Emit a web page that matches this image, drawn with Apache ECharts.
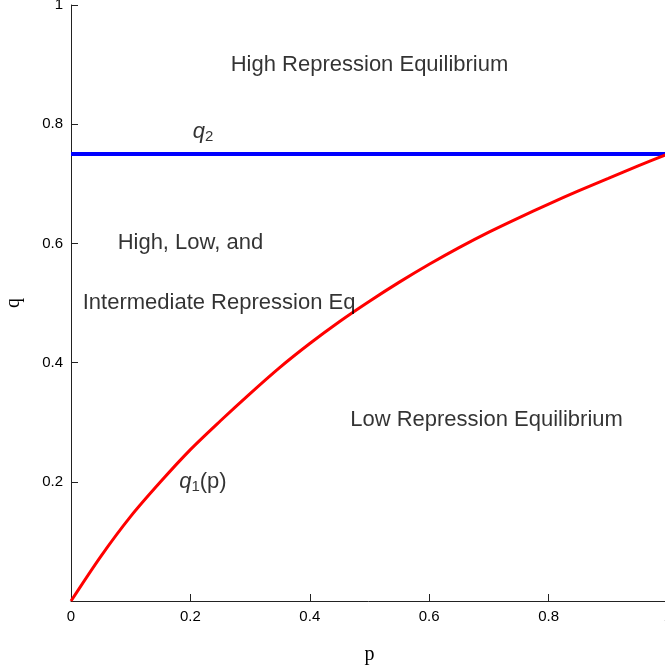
<!DOCTYPE html>
<html>
<head>
<meta charset="utf-8">
<script src="https://cdn.jsdelivr.net/npm/echarts@6/dist/echarts.min.js"></script>
<style>
  html, body { margin: 0; padding: 0; background: #fff; }
  #chart { width: 665px; height: 670px; }
</style>
</head>
<body>
<div id="chart"></div>
<script>
// q1(p) curve
const pValues  = [0, 0.05, 0.1, 0.15, 0.2, 0.25, 0.3, 0.35, 0.4, 0.45, 0.5,
                  0.55, 0.6, 0.65, 0.7, 0.75, 0.8, 0.85, 0.9, 0.95, 1.0];
const q1Values = [0, 0.075, 0.142, 0.200, 0.254, 0.302, 0.348, 0.392, 0.432, 0.469, 0.503,
                  0.535, 0.565, 0.593, 0.619, 0.643, 0.666, 0.688, 0.709, 0.730, 0.75];

// q2 horizontal line
const q2Level = 0.75;

const xTicks = [0, 0.2, 0.4, 0.6, 0.8, 1];
const yTicks = [0.2, 0.4, 0.6, 0.8, 1];

// text labels: [p, q, text]
const notes = [
  [0.5, 0.9, 'High Repression Equilibrium'],
  [0.221, 0.787, '{i|q}{s|2}'],
  [0.2, 0.6, 'High, Low, and'],
  [0.248, 0.5, 'Intermediate Repression Eq'],
  [0.696, 0.303, 'Low Repression Equilibrium'],
  [0.221, 0.2, '{i|q}{s|1}(p)']
];

const chart = echarts.init(document.getElementById('chart'));

const axisColor = '#222';
const labelFont = { fontFamily: 'Liberation Sans', fontSize: 15, color: '#000' };

chart.setOption({
  animation: false,
  grid: { left: 71, top: 5, width: 597, height: 596, containLabel: false, outerBoundsMode: 'none' },
  xAxis: {
    type: 'value', min: 0, max: 1, interval: 0.2,
    name: 'p', nameLocation: 'middle', nameGap: 44,
    nameTextStyle: { fontFamily: 'Liberation Serif', fontSize: 20, color: '#000' },
    axisLine: { show: true, lineStyle: { color: axisColor, width: 1 } },
    axisTick: { show: true, inside: true, length: 7, lineStyle: { color: axisColor } },
    axisLabel: Object.assign({ margin: 8, formatter: v => xTicks.includes(v) ? String(v) : '' }, labelFont),
    splitLine: { show: false }
  },
  yAxis: {
    type: 'value', min: 0, max: 1, interval: 0.2,
    name: 'q', nameLocation: 'middle', nameGap: 47, nameRotate: 90,
    nameTextStyle: { fontFamily: 'Liberation Serif', fontSize: 20, color: '#000' },
    axisLine: { show: true, lineStyle: { color: axisColor, width: 1 } },
    axisTick: { show: true, inside: true, length: 7, lineStyle: { color: axisColor } },
    axisLabel: Object.assign({ margin: 8, formatter: v => yTicks.includes(v) ? String(v) : '' }, labelFont),
    splitLine: { show: false }
  },
  series: [
    {
      type: 'line',
      data: [[0, q2Level], [1, q2Level]],
      symbol: 'none',
      lineStyle: { color: '#0000ff', width: 4 },
      z: 3
    },
    {
      type: 'line',
      data: pValues.map((p, i) => [p, q1Values[i]]),
      smooth: 0.3,
      symbol: 'none',
      lineStyle: { color: '#ff0000', width: 3 },
      z: 4
    },
    {
      type: 'scatter',
      symbolSize: 0,
      data: notes.map(n => ({ value: [n[0], n[1]], text: n[2] })),
      label: {
        show: true,
        position: 'inside',
        formatter: p => p.data.text,
        fontFamily: 'Liberation Sans',
        fontSize: 22,
        color: '#000',
        rich: {
          i: { fontFamily: 'Liberation Sans', fontStyle: 'italic', fontSize: 22, color: '#000' },
          s: { fontFamily: 'Liberation Sans', fontSize: 15, color: '#000', padding: [10, 0, 0, 0] }
        }
      },
      z: 5
    }
  ]
});
</script>
</body>
</html>
